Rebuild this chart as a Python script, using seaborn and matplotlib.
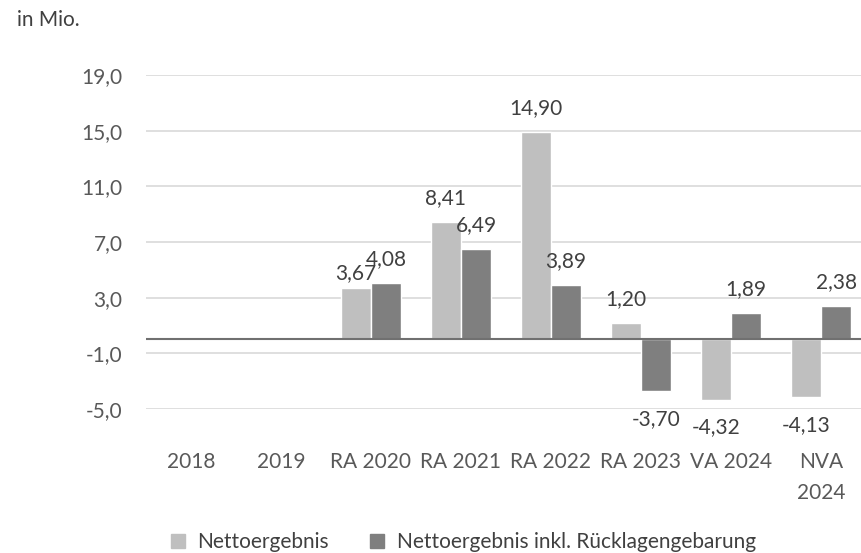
import pandas as pd
import numpy as np
import matplotlib
matplotlib.use("Agg")
import matplotlib.pyplot as plt
from matplotlib.patches import Patch
from matplotlib.ticker import FuncFormatter
import seaborn as sns

sns.set_theme(style="white")
plt.rcParams['font.family'] = ['Lato', 'DejaVu Sans']

categories = ['2018', '2019', 'RA 2020', 'RA 2021', 'RA 2022', 'RA 2023', 'VA 2024', 'NVA\n2024']
netto = [np.nan, np.nan, 3.67, 8.41, 14.90, 1.20, -4.32, -4.13]
netto_inkl = [np.nan, np.nan, 4.08, 6.49, 3.89, -3.70, 1.89, 2.38]
series = ['Nettoergebnis', 'Nettoergebnis inkl. Rücklagengebarung']
colors = {'Nettoergebnis': '#BFBFBF', 'Nettoergebnis inkl. Rücklagengebarung': '#7F7F7F'}
yticks = [-5, -1, 3, 7, 11, 15, 19]

df = pd.DataFrame({
    'Kategorie': categories * 2,
    'Serie': [series[0]] * len(categories) + [series[1]] * len(categories),
    'Wert': netto + netto_inkl,
})

def de(v, nd=2):
    return f"{v:.{nd}f}".replace('.', ',')

FS = 15

fig = plt.figure(figsize=(8.61, 5.53), dpi=100)
ax = fig.add_axes([146 / 861, (553 - 409) / 553, 720 / 861, 334 / 553])

sns.barplot(data=df, x='Kategorie', y='Wert', hue='Serie', order=categories,
            hue_order=series, palette=colors, width=0.67, errorbar=None,
            saturation=1, legend=False, ax=ax)

ax.set_ylim(-5, 19)
ax.set_xlim(-0.5, len(categories) - 0.5)
ax.set_yticks(yticks)
ax.yaxis.set_major_formatter(FuncFormatter(lambda v, _: de(v, 1)))
ax.grid(axis='y', color='#D9D9D9', lw=1.2)
ax.set_axisbelow(True)
ax.axhline(0, color='#707070', lw=1.5, zorder=3)
for s in ax.spines.values():
    s.set_visible(False)
ax.set_xlabel('')
ax.set_ylabel('')
ax.tick_params(axis='y', length=0, pad=17, labelsize=FS, labelcolor='#595959')
ax.tick_params(axis='x', length=0, pad=31, labelsize=FS, labelcolor='#595959')
for t in ax.get_xticklabels():
    t.set_linespacing(1.7)
    t.set_verticalalignment('top')

for c in ax.containers:
    texts = ax.bar_label(c, labels=[de(v) for v in c.datavalues], padding=10,
                         fontsize=FS, color='#404040')
    for t, v in zip(texts, c.datavalues):
        if v < 0:
            t.xyann = (0, -13)
        elif abs(v - 3.67) < 1e-6:
            t.xyann = (0, 4)

fig.text(17 / 861, 1 - 20 / 553, 'in Mio.', fontsize=FS, color='#404040', va='center')

handles = [Patch(color=colors[s], label=s) for s in series]
fig.legend(handles=handles, loc='center left', bbox_to_anchor=(152 / 861, 1 - 542 / 553),
           ncol=2, frameon=False, fontsize=FS, handlelength=0.68, handleheight=0.68,
           handletextpad=0.58, columnspacing=2.0, labelcolor='#404040')

fig.savefig('out.png', dpi=100)
